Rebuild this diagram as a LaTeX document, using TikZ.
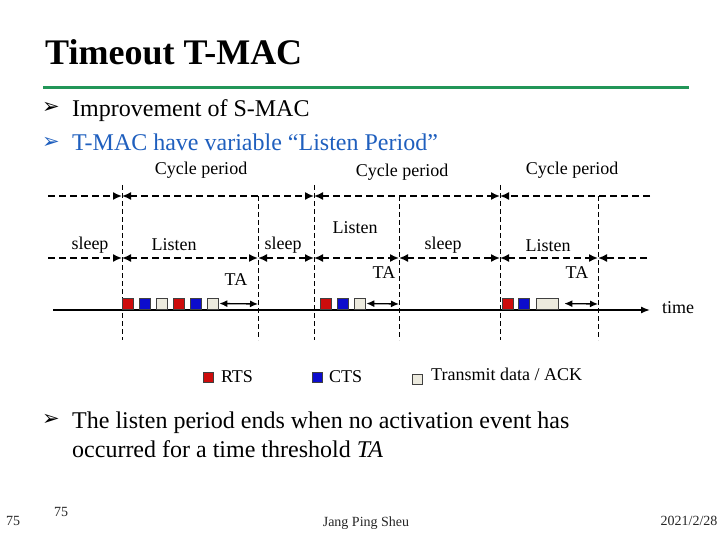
\documentclass[tikz,border=0pt]{standalone}
\usepackage{fontspec}
\setmainfont{Liberation Serif}
\newfontfamily\dingfont{DejaVu Sans}
\usetikzlibrary{arrows.meta,positioning}
\definecolor{rulegreen}{RGB}{34,150,88}
\definecolor{bulletblue}{RGB}{31,95,190}
\definecolor{rtsred}{RGB}{205,12,12}
\definecolor{ctsblue}{RGB}{12,12,205}
\definecolor{datagray}{RGB}{236,234,222}

\begin{document}
\begin{tikzpicture}[
    x=1pt, y=-1pt,
    period/.style={dash pattern=on 7pt off 4pt, line width=1.6pt},
    bound/.style={dash pattern=on 5pt off 3pt, line width=0.7pt},
    tip/.style={-{Latex[length=9pt,width=8pt]}},
    both/.style={{Latex[length=9pt,width=8pt]}-{Latex[length=9pt,width=8pt]}},
    ta/.style={{Latex[length=8pt,width=7pt]}-{Latex[length=8pt,width=7pt]}, line width=1.3pt},
    pkt/.style={draw=black!75, line width=0.6pt, minimum width=11pt, minimum height=11pt, inner sep=0pt},
    rts/.style={pkt, fill=rtsred},
    cts/.style={pkt, fill=ctsblue},
    dat/.style={pkt, fill=datagray},
    lbl/.style={font=\fontsize{18}{21}\selectfont, inner sep=0pt},
    bul/.style={font=\fontsize{24}{28}\selectfont, inner sep=0pt, anchor=base west},
    bulletmark/.style={font=\dingfont\fontsize{21}{24}\selectfont, inner sep=0pt},
    foot/.style={font=\fontsize{14}{16}\selectfont, inner sep=0pt, text=black!85}
]
    \useasboundingbox (0,0) rectangle (720,540);

    % title and rule
    \node[font=\bfseries\fontsize{36}{42}\selectfont, inner sep=0pt, anchor=base west] (title) at (45,65) {Timeout T-MAC};
    \coordinate (rule0) at (43,88);
    \coordinate (rule1) at (689,88);
    \draw[rulegreen, line width=3pt] (rule0) -- (rule1);

    % bullets
    \node[bulletmark] (m1) at (51,108) {➢};
    \node[bul] (b1) at (72,117) {Improvement of S-MAC};
    \node[bulletmark, text=bulletblue] (m2) at (51,143) {➢};
    \node[bul, text=bulletblue] (b2) at (72,151) {T-MAC have variable “Listen Period”};

    % cycle periods
    \node[lbl] (cp1) at (201,170) {Cycle period};
    \node[lbl] (cp2) at (402,172) {Cycle period};
    \node[lbl] (cp3) at (572,170) {Cycle period};

    \coordinate (c0) at (48,196);
    \coordinate (c1) at (122,196);
    \coordinate (c2) at (314,196);
    \coordinate (c3) at (500,196);
    \coordinate (c4) at (650,196);
    \draw[period, tip] (c0) -- (c1);
    \draw[period, both] (c1) -- (c2);
    \draw[period, both] (c2) -- (c3);
    \draw[period, tip] (c4) -- (c3);

    % listen / sleep
    \coordinate (s0) at (48,258);
    \coordinate (s1) at (122,258);
    \coordinate (s2) at (258,258);
    \coordinate (s3) at (314,258);
    \coordinate (s4) at (399,258);
    \coordinate (s5) at (500,258);
    \coordinate (s6) at (598,258);
    \coordinate (s7) at (647,258);
    \draw[period, tip] (s0) -- (s1);
    \foreach \a/\b in {s1/s2, s2/s3, s3/s4, s4/s5, s5/s6}
        \draw[period, both] (\a) -- (\b);
    \draw[period, tip] (s7) -- (s6);

    \node[lbl] (sl1) at (90,245) {sleep};
    \node[lbl] (li1) at (174,245) {Listen};
    \node[lbl] (sl2) at (283,245) {sleep};
    \node[lbl] (li2) at (355,228) {Listen};
    \node[lbl] (sl3) at (443,245) {sleep};
    \node[lbl] (li3) at (548,246) {Listen};

    % boundaries
    \foreach \n/\x/\t in {1/122/185, 2/258/196, 3/314/185, 4/399/196, 5/500/185, 6/598/196} {
        \coordinate (v\n a) at (\x,\t);
        \coordinate (v\n b) at (\x,340);
        \draw[bound] (v\n a) -- (v\n b);
    }

    % time axis
    \coordinate (t0) at (53,310);
    \coordinate (t1) at (650,310);
    \draw[line width=1.4pt, -{Latex[length=9pt,width=7pt]}] (t0) -- (t1);
    \node[lbl] (time) at (678,308) {time};

    % packets
    \node[rts] (r1) at (127.5,303.5) {};
    \node[cts] (k1) at (144.5,303.5) {};
    \node[dat] (d1) at (161.5,303.5) {};
    \node[rts] (r2) at (178.5,303.5) {};
    \node[cts] (k2) at (195.5,303.5) {};
    \node[dat] (d2) at (212.5,303.5) {};
    \node[rts] (r3) at (325.5,303.5) {};
    \node[cts] (k3) at (342.5,303.5) {};
    \node[dat] (d3) at (359.5,303.5) {};
    \node[rts] (r4) at (507.5,303.5) {};
    \node[cts] (k4) at (524,303.5) {};
    \node[dat, minimum width=22pt] (d4) at (547,303.5) {};

    % timeouts
    \coordinate (ta1) at (258,304);
    \coordinate (ta2) at (399,304);
    \coordinate (ta3) at (598,304);
    \draw[ta, shorten <=1pt] (d2.east) -- (ta1);
    \draw[ta, shorten <=1pt] (d3.east) -- (ta2);
    \draw[ta, shorten <=6pt] (d4.east) -- (ta3);
    \node[lbl] (tal1) at (236,280) {TA};
    \node[lbl] (tal2) at (384,273) {TA};
    \node[lbl] (tal3) at (577,273) {TA};

    % legend
    \node[rts, minimum width=10pt, minimum height=10pt] (lr) at (208.5,377) {};
    \node[lbl, right=7pt of lr] (lrt) {RTS};
    \node[cts, minimum width=10pt, minimum height=10pt] (lc) at (317.5,377) {};
    \node[lbl, right=6pt of lc] (lct) {CTS};
    \node[dat, minimum width=10pt, minimum height=10pt] (ld) at (417,379) {};
    \node[lbl, anchor=west] (ldt) at (431,374) {Transmit data / ACK};

    % closing bullet
    \node[bulletmark] (m3) at (51,420) {➢};
    \node[bul] (b3) at (72,428) {The listen period ends when no activation event has};
    \node[bul] (b4) at (72,457) {occurred for a time threshold \textit{TA}};

    % footer
    \node[foot] (f1) at (13,521) {75};
    \node[foot] (f2) at (61,512) {75};
    \node[foot] (f3) at (366,523) {Jang Ping Sheu};
    \node[foot] (f4) at (689,521) {2021/2/28};
\end{tikzpicture}
\end{document}
